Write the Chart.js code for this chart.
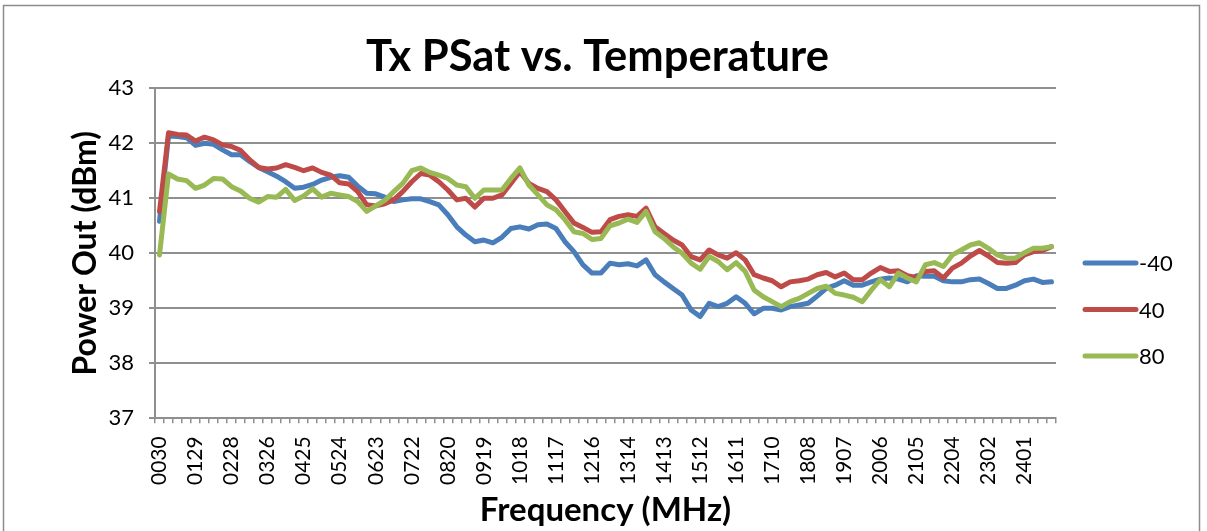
<!DOCTYPE html>
<html lang="en">
<head>
  <meta charset="UTF-8" />
  <title>Tx PSat vs. Temperature</title>
  <script src="https://cdn.jsdelivr.net/npm/chart.js@4.4.1/dist/chart.umd.min.js"></script>
  <style>
    html, body { margin: 0; padding: 0; background: #fff; }
    #wrap { position: relative; width: 1207px; height: 531px; }
  </style>
</head>
<body>
  <div id="wrap"><canvas id="chart" width="1207" height="531"></canvas></div>

  <script>
    // frequency (MHz), 30 to 2475 in 24.7 MHz steps
    const freqs = [
      '0030','0055','0079','0104','0129','0154','0178','0203','0228','0252',
      '0277','0302','0326','0351','0376','0401','0425','0450','0475','0499',
      '0524','0549','0573','0598','0623','0648','0672','0697','0722','0746',
      '0771','0796','0820','0845','0870','0895','0919','0944','0969','0993',
      '1018','1043','1067','1092','1117','1142','1166','1191','1216','1240',
      '1265','1290','1314','1339','1364','1389','1413','1438','1463','1487',
      '1512','1537','1561','1586','1611','1636','1660','1685','1710','1734',
      '1759','1784','1808','1833','1858','1883','1907','1932','1957','1981',
      '2006','2031','2055','2080','2105','2130','2154','2179','2204','2228',
      '2253','2278','2302','2327','2352','2377','2401','2426','2451','2475'
    ];

    const seriesNames = ['-40', '40', '80'];

    // power out (dBm) at -40 C
    const tempM40 = [
      40.58, 42.13, 42.12, 42.10, 41.96, 42.00, 41.98, 41.88, 41.79, 41.79,
      41.67, 41.56, 41.48, 41.40, 41.30, 41.18, 41.20, 41.25, 41.33, 41.38,
      41.41, 41.38, 41.22, 41.09, 41.08, 41.02, 40.94, 40.97, 40.99, 40.99,
      40.94, 40.88, 40.70, 40.48, 40.33, 40.21, 40.24, 40.19, 40.29, 40.45,
      40.48, 40.44, 40.52, 40.53, 40.45, 40.21, 40.03, 39.79, 39.64, 39.64,
      39.82, 39.79, 39.81, 39.77, 39.88, 39.61, 39.48, 39.36, 39.24, 38.97,
      38.85, 39.09, 39.03, 39.09, 39.21, 39.09, 38.90, 39.00, 39.00, 38.97,
      39.03, 39.06, 39.09, 39.22, 39.36, 39.42, 39.50, 39.42, 39.42, 39.48,
      39.53, 39.55, 39.53, 39.48, 39.59, 39.58, 39.58, 39.50, 39.48, 39.48,
      39.52, 39.53, 39.45, 39.36, 39.36, 39.42, 39.50, 39.53, 39.47, 39.48
    ];

    // power out (dBm) at 40 C
    const temp40 = [
      40.76, 42.19, 42.16, 42.15, 42.04, 42.11, 42.06, 41.97, 41.94, 41.87,
      41.70, 41.56, 41.53, 41.55, 41.61, 41.56, 41.50, 41.55, 41.47, 41.42,
      41.28, 41.26, 41.12, 40.88, 40.86, 40.90, 40.97, 41.12, 41.30, 41.45,
      41.42, 41.30, 41.15, 40.97, 41.00, 40.84, 41.00, 41.00, 41.06, 41.27,
      41.48, 41.27, 41.18, 41.12, 40.97, 40.76, 40.55, 40.47, 40.38, 40.39,
      40.61, 40.67, 40.70, 40.67, 40.82, 40.48, 40.36, 40.24, 40.15, 39.94,
      39.88, 40.06, 39.97, 39.91, 40.01, 39.88, 39.61, 39.55, 39.50, 39.39,
      39.48, 39.50, 39.53, 39.61, 39.65, 39.57, 39.64, 39.52, 39.52, 39.64,
      39.74, 39.67, 39.68, 39.59, 39.56, 39.67, 39.68, 39.55, 39.73, 39.82,
      39.95, 40.05, 39.95, 39.83, 39.82, 39.83, 39.97, 40.03, 40.05, 40.12
    ];

    // power out (dBm) at 80 C
    const temp80 = [
      39.97, 41.44, 41.35, 41.32, 41.18, 41.24, 41.36, 41.35, 41.21, 41.13,
      41.00, 40.93, 41.03, 41.02, 41.16, 40.96, 41.04, 41.17, 41.02, 41.09,
      41.06, 41.03, 40.94, 40.76, 40.86, 40.96, 41.12, 41.27, 41.50, 41.55,
      41.47, 41.42, 41.36, 41.24, 41.21, 41.00, 41.15, 41.15, 41.15, 41.36,
      41.55, 41.24, 41.06, 40.88, 40.79, 40.61, 40.39, 40.36, 40.25, 40.27,
      40.50, 40.55, 40.62, 40.56, 40.76, 40.39, 40.27, 40.12, 40.00, 39.82,
      39.71, 39.94, 39.85, 39.70, 39.83, 39.67, 39.33, 39.21, 39.12, 39.03,
      39.12, 39.18, 39.27, 39.36, 39.40, 39.27, 39.24, 39.20, 39.12, 39.33,
      39.52, 39.39, 39.64, 39.55, 39.48, 39.79, 39.83, 39.76, 39.97, 40.06,
      40.15, 40.19, 40.09, 39.97, 39.91, 39.91, 40.01, 40.09, 40.09, 40.12
    ];

    const colors = ['#4a7ebb', '#be4b48', '#98b954'];
    const gridColor = '#8f8f8f';
    const fontFamily = 'Lato, "Open Sans", sans-serif';

    // outer chart border like the Excel chart frame
    const frame = {
      id: 'frame',
      beforeDraw(chart) {
        const c = chart.ctx;
        c.save();
        c.strokeStyle = '#8c8c8c';
        c.lineWidth = 1.5;
        c.strokeRect(3.5, 5.5, 1196, 540);
        c.restore();
      }
    };

    // legend on the right, drawn by hand to keep the plot area fixed
    const sideLegend = {
      id: 'sideLegend',
      afterDraw(chart) {
        const c = chart.ctx;
        const ys = [263, 309.5, 356];
        c.save();
        chart.data.datasets.forEach((ds, i) => {
          c.strokeStyle = ds.borderColor;
          c.lineWidth = 5;
          c.lineCap = 'round';
          c.beginPath();
          c.moveTo(1085, ys[i]);
          c.lineTo(1136, ys[i]);
          c.stroke();
          c.fillStyle = '#000';
          c.font = '22px ' + fontFamily;
          c.textBaseline = 'middle';
          c.fillText(ds.label, 1139, ys[i] + 1);
        });
        c.restore();
      }
    };

    const makeSet = (i, data, order) => ({
      label: seriesNames[i],
      data: data,
      borderColor: colors[i],
      backgroundColor: colors[i],
      borderWidth: 5,
      borderCapStyle: 'round',
      borderJoinStyle: 'round',
      pointRadius: 0,
      tension: 0,
      order: order
    });

    new Chart(document.getElementById('chart'), {
      type: 'line',
      data: {
        labels: freqs,
        datasets: [
          makeSet(0, tempM40, 2),
          makeSet(1, temp40, 1),
          makeSet(2, temp80, 0)
        ]
      },
      options: {
        responsive: false,
        animation: false,
        layout: { padding: { top: 8, right: 12, bottom: 0, left: 0 } },
        plugins: {
          legend: { display: false },
          tooltip: { enabled: false },
          title: {
            display: true,
            text: 'Tx PSat vs. Temperature',
            color: '#000',
            font: { family: fontFamily, size: 43.5, weight: 'bold', lineHeight: 1.2 },
            padding: { top: 23, bottom: 5 }
          }
        },
        scales: {
          x: {
            offset: true,
            afterFit(scale) { scale.height = 112.7; },
            grid: {
              offset: true,
              drawOnChartArea: false,
              drawTicks: true,
              tickLength: 5,
              color: gridColor,
              lineWidth: 1.5
            },
            border: { display: true, color: gridColor, width: 2 },
            ticks: {
              autoSkip: false,
              minRotation: 90,
              maxRotation: 90,
              padding: 13,
              color: '#000',
              font: { family: fontFamily, size: 21 },
              callback: function (v, i) { return i % 4 === 0 ? freqs[i] : ''; }
            },
            title: {
              display: true,
              text: 'Frequency (MHz)',
              color: '#000',
              font: { family: fontFamily, size: 33, weight: 'bold', lineHeight: 1.2 },
              padding: { top: 0, bottom: 1 }
            }
          },
          y: {
            min: 37,
            max: 43,
            afterFit(scale) { scale.width = 155; },
            grid: {
              color: gridColor,
              lineWidth: 2,
              drawTicks: true,
              tickLength: 6
            },
            border: { display: true, color: gridColor, width: 2 },
            ticks: {
              stepSize: 1,
              padding: 15,
              color: '#000',
              font: { family: fontFamily, size: 22 }
            },
            title: {
              display: true,
              text: 'Power Out (dBm)',
              color: '#000',
              font: { family: fontFamily, size: 32, weight: 'bold', lineHeight: 1.2 },
              padding: { top: 66, bottom: 0 }
            }
          },
          // empty box on the right that keeps room for the legend
          side: {
            position: 'right',
            display: true,
            afterFit(scale) { scale.width = 139; },
            grid: { display: false, drawTicks: false },
            border: { display: false },
            ticks: { display: false }
          }
        }
      },
      plugins: [frame, sideLegend]
    });
  </script>
</body>
</html>
